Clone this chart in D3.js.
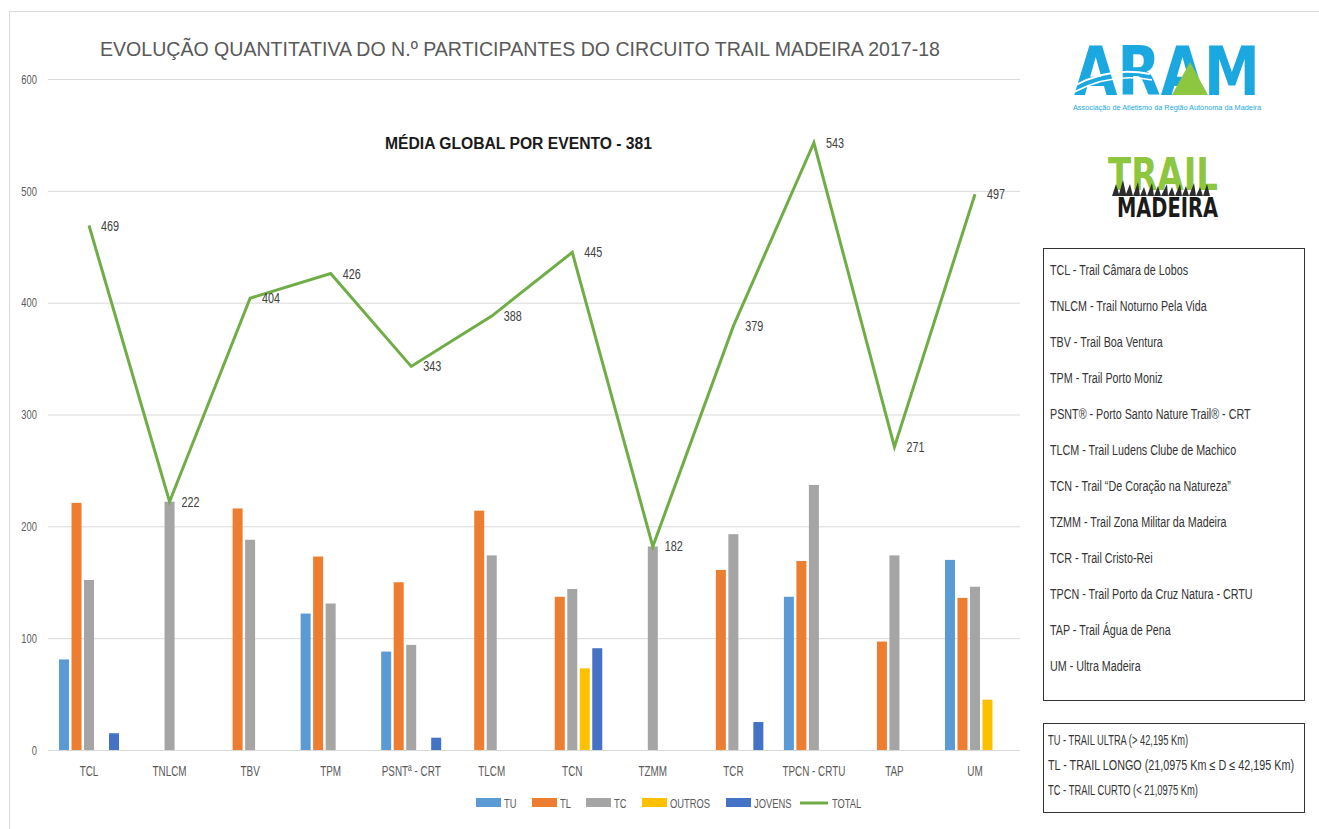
<!DOCTYPE html>
<html><head><meta charset="utf-8">
<script src="https://cdn.jsdelivr.net/npm/d3@7"></script>
<style>
html,body{margin:0;padding:0;background:#fff;}
svg{display:block;}
</style></head>
<body>
<svg id="chart" width="1319" height="829"></svg>
<script>
// ---- DATA ----
const categories = ["TCL","TNLCM","TBV","TPM","PSNT\u00AA - CRT","TLCM","TCN","TZMM","TCR","TPCN - CRTU","TAP","UM"];
const seriesNames = ["TU","TL","TC","OUTROS","JOVENS"];
const TU     = [81, null, null, 122, 88, null, null, null, null, 137, null, 170];
const TL     = [221, null, 216, 173, 150, 214, 137, null, 161, 169, 97, 136];
const TC     = [152, 222, 188, 131, 94, 174, 144, 182, 193, 237, 174, 146];
const OUTROS = [null, null, null, null, null, null, 73, null, null, null, null, 45];
const JOVENS = [15, null, null, null, 11, null, 91, null, 25, null, null, null];
const TOTAL  = [469, 222, 404, 426, 343, 388, 445, 182, 379, 543, 271, 497];
const yTicks = [0, 100, 200, 300, 400, 500, 600];
const title = "EVOLUÇÃO QUANTITATIVA DO N.º PARTICIPANTES DO CIRCUITO TRAIL MADEIRA 2017-18";
const subtitle = "MÉDIA GLOBAL POR EVENTO - 381";
const eventNames = [
  "TCL - Trail Câmara de Lobos",
  "TNLCM - Trail Noturno Pela Vida",
  "TBV - Trail Boa Ventura",
  "TPM - Trail Porto Moniz",
  "PSNT\u00AE - Porto Santo Nature Trail\u00AE - CRT",
  "TLCM - Trail Ludens Clube de Machico",
  "TCN - Trail \u201CDe Coração na Natureza\u201D",
  "TZMM - Trail Zona Militar da Madeira",
  "TCR - Trail Cristo-Rei",
  "TPCN - Trail Porto da Cruz Natura - CRTU",
  "TAP - Trail Água de Pena",
  "UM - Ultra Madeira"
];
const distanceNotes = [
  "TU - TRAIL ULTRA (> 42,195 Km)",
  "TL - TRAIL LONGO (21,0975 Km \u2264 D \u2264 42,195 Km)",
  "TC - TRAIL CURTO (< 21,0975 Km)"
];
const legendLabels = ["TU","TL","TC","OUTROS","JOVENS","TOTAL"];

// ---- STYLE ----
const colors = {TU:"#5B9BD5", TL:"#ED7D31", TC:"#A5A5A5", OUTROS:"#FFC000", JOVENS:"#4472C4", TOTAL:"#70AD47"};
const seriesData = {TU, TL, TC, OUTROS, JOVENS};
const FONT = "'Liberation Sans',Arial,sans-serif";
const svg = d3.select("#chart");

function squeeze(sel, k){
  sel.each(function(){
    const w = this.getComputedTextLength();
    d3.select(this).attr("textLength", w*k).attr("lengthAdjust","spacingAndGlyphs");
  });
}
function fitTo(sel, refText, targetW){
  const t = svg.append("text").attr("font-family",sel.attr("font-family")).attr("font-size",sel.attr("font-size")).text(refText);
  const k = targetW / t.node().getComputedTextLength();
  t.remove();
  squeeze(sel, k);
}

// frame
svg.append("rect").attr("x",9.5).attr("y",11.5).attr("width",1400).attr("height",900)
  .attr("fill","none").attr("stroke","#D9D9D9");

const y = d3.scaleLinear().domain([0,600]).range([750,79]);
const x0 = d3.scaleBand().domain(categories).range([48.75,1015.25]);
const x1 = d3.scaleBand().domain(seriesNames).range([-30,30]).paddingInner(0.2);

// grid
svg.append("g").selectAll("line").data(yTicks).join("line")
  .attr("x1",48).attr("x2",1020).attr("y1",d=>y(d)+0.5).attr("y2",d=>y(d)+0.5)
  .attr("stroke","#D9D9D9").attr("stroke-width",1);

// y axis labels
const yAxis = d3.axisLeft(y).tickValues(yTicks).tickSize(0).tickPadding(0);
const gy = svg.append("g").attr("transform","translate(37,0)").call(yAxis);
gy.select(".domain").remove();
const yt = gy.selectAll("text").attr("font-family",FONT).attr("font-size",13).attr("fill","#595959");
squeeze(yt, 0.72);

// x axis labels
const xAxis = d3.axisBottom(x0).tickSize(0).tickPadding(0);
const gx = svg.append("g").attr("transform","translate(0,765)").call(xAxis);
gx.select(".domain").remove();
const xt = gx.selectAll("text").attr("font-family",FONT).attr("font-size",15).attr("fill","#595959");
fitTo(xt, "TPCN - CRTU", 63);

// bars
seriesNames.forEach(s=>{
  const vals = seriesData[s];
  svg.append("g").selectAll("rect")
    .data(categories.map((c,i)=>({c, v: vals[i]})).filter(d=>d.v!=null))
    .join("rect")
    .attr("x",d=>x0(d.c)+x0.bandwidth()/2+x1(s))
    .attr("width",x1.bandwidth())
    .attr("y",d=>y(d.v))
    .attr("height",d=>y(0)-y(d.v))
    .attr("fill",colors[s]);
});

// total line
const cx = c => x0(c)+x0.bandwidth()/2;
const line = d3.line().x((d,i)=>cx(categories[i])).y(d=>y(d));
svg.append("path").datum(TOTAL).attr("d",line).attr("fill","none")
  .attr("stroke",colors.TOTAL).attr("stroke-width",3).attr("stroke-linejoin","miter");

const lt = svg.append("g").selectAll("text").data(TOTAL).join("text")
  .attr("x",(d,i)=>cx(categories[i])+12).attr("y",d=>y(d)+5)
  .attr("font-family",FONT).attr("font-size",14).attr("fill","#404040")
  .text(d=>d);
squeeze(lt, 0.77);

// title
svg.append("text").attr("x",100).attr("y",56).attr("textLength",840).attr("lengthAdjust","spacingAndGlyphs")
  .attr("font-family",FONT).attr("font-size",21).attr("fill","#595959").text(title);
svg.append("text").attr("x",385).attr("y",149).attr("textLength",267).attr("lengthAdjust","spacingAndGlyphs")
  .attr("font-family",FONT).attr("font-size",16).attr("font-weight","bold").attr("fill","#1a1a1a").text(subtitle);

// bottom legend
const legX = [476, 532, 586, 642, 726, 800];
const lg = svg.append("g");
legendLabels.forEach((s,i)=>{
  if (s==="TOTAL") {
    lg.append("line").attr("x1",legX[i]).attr("x2",legX[i]+28).attr("y1",803).attr("y2",803)
      .attr("stroke",colors.TOTAL).attr("stroke-width",3);
  } else {
    lg.append("rect").attr("x",legX[i]).attr("y",798).attr("width",25).attr("height",9).attr("fill",colors[s]);
  }
  const t = lg.append("text").attr("x",legX[i]+(s==="TOTAL"?32:28)).attr("y",808)
    .attr("font-family",FONT).attr("font-size",13).attr("fill","#595959").text(s);
  squeeze(t, 0.72);
});

// event legend box
svg.append("rect").attr("x",1043.5).attr("y",248.5).attr("width",261).attr("height",452)
  .attr("fill","#fff").attr("stroke","#333");
const et = svg.append("g").selectAll("text").data(eventNames).join("text")
  .attr("x",1050).attr("y",(d,i)=>275+i*36)
  .attr("font-family",FONT).attr("font-size",14).attr("fill","#333").text(d=>d);
fitTo(et, eventNames[0], 138);

svg.append("rect").attr("x",1043.5).attr("y",723.5).attr("width",261).attr("height",89)
  .attr("fill","#fff").attr("stroke","#333");
const noteWidths = [140, 246, 150];
svg.append("g").selectAll("text").data(distanceNotes).join("text")
  .attr("x",1048).attr("y",(d,i)=>745+i*25)
  .attr("font-family",FONT).attr("font-size",14).attr("fill","#333")
  .attr("textLength",(d,i)=>noteWidths[i]).attr("lengthAdjust","spacingAndGlyphs")
  .text(d=>d);

// ARAM logo
const logo = svg.append("g");
logo.append("text").attr("x",1074).attr("y",95).attr("textLength",186).attr("lengthAdjust","spacingAndGlyphs")
  .attr("font-family","'DejaVu Sans',Arial,sans-serif").attr("font-weight","bold").attr("font-size",68)
  .attr("fill","#1BA8E0").text("ARAM");
logo.append("path").attr("d","M1172,95 L1190,62 L1208,95 Z").attr("fill","#8DC63F");
logo.append("path").attr("d","M1074,86 Q1110,66 1150,74").attr("fill","none").attr("stroke","#fff").attr("stroke-width",2);
logo.append("path").attr("d","M1074,92 Q1112,72 1152,80").attr("fill","none").attr("stroke","#fff").attr("stroke-width",1.5);
logo.append("text").attr("x",1073).attr("y",110).attr("textLength",188).attr("lengthAdjust","spacingAndGlyphs")
  .attr("font-family",FONT).attr("font-size",7).attr("fill","#1BA8E0")
  .text("Associação de Atletismo da Região Autónoma da Madeira");

// TRAIL MADEIRA logo
const tl = svg.append("g");
tl.append("text").attr("x",1108).attr("y",190).attr("textLength",110).attr("lengthAdjust","spacingAndGlyphs")
  .attr("font-family","'DejaVu Sans',Arial,sans-serif").attr("font-weight","bold").attr("font-size",44)
  .attr("fill","#8DC63F").text("TRAIL");
tl.append("path").attr("d","M1112,196 l4,-12 l3,10 l4,-14 l3,14 l4,-10 l3,12 l5,-14 l2,14 l4,-9 l3,9 l5,-13 l2,13 l4,-10 l3,10 l6,-12 l1,12 l4,-9 l3,9 l5,-12 l2,12 l4,-10 l3,10 l5,-13 l2,13 l4,-9 l3,9 l4,-12 l3,12 Z")
  .attr("fill","#2d2d2d");
tl.append("text").attr("x",1117).attr("y",217).attr("textLength",101).attr("lengthAdjust","spacingAndGlyphs")
  .attr("font-family","'DejaVu Sans',Arial,sans-serif").attr("font-weight","bold").attr("font-size",26)
  .attr("fill","#1a1a1a").text("MADEIRA");
</script>
</body></html>
